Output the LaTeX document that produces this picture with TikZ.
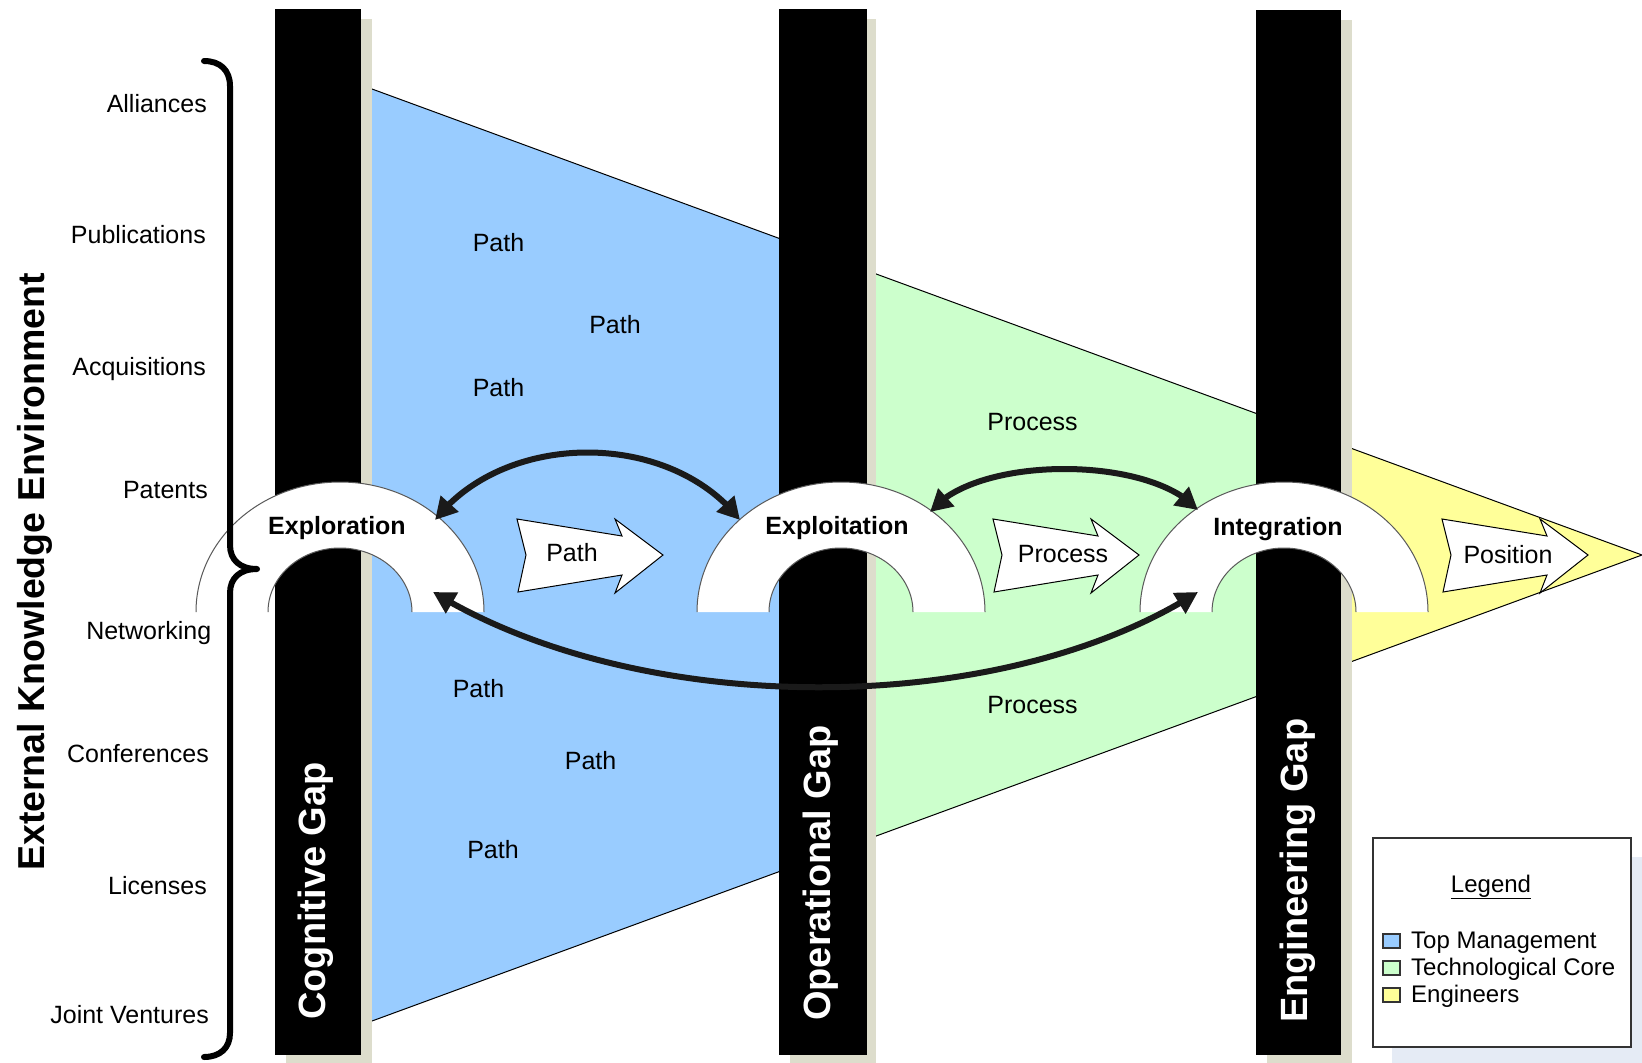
\documentclass[tikz,border=0pt]{standalone}
\usepackage{fontspec}
\setmainfont{Liberation Sans}
\usetikzlibrary{arrows.meta,bending}

\definecolor{mgmt}{RGB}{153,204,255}
\definecolor{core}{RGB}{204,255,204}
\definecolor{engr}{RGB}{255,255,153}
\definecolor{barshade}{RGB}{221,221,204}
\definecolor{legshade}{RGB}{229,235,245}
\definecolor{ink}{RGB}{26,26,26}

\begin{document}
\begin{tikzpicture}[x=1pt,y=1pt,
  txt/.style={inner sep=0pt, font=\fontsize{25}{30}\selectfont},
  legtxt/.style={inner sep=0pt, anchor=base west, font=\fontsize{24}{28}\selectfont},
  archlabel/.style={inner sep=0pt, anchor=base, font=\fontsize{25}{30}\selectfont\bfseries},
  gaplabel/.style={inner sep=0pt, rotate=90, anchor=base west, text=white,
    font=\fontsize{38}{44}\selectfont\bfseries},
  gapbar/.style={fill=black},
  gapshade/.style={fill=barshade},
  archline/.style={draw=black!65, line width=1pt},
  blockarrow/.style={fill=white, draw=black, line width=1pt, line join=miter},
  link/.style={draw=ink, line width=6pt,
    {Triangle[length=22pt,width=23pt]}-{Triangle[length=22pt,width=23pt]}},
  legbox/.style={draw=black!80, line width=1.3pt},
  archpic/.pic={
    \fill[white] (-144,0) arc[start angle=180,end angle=0,x radius=144,y radius=130]
      -- (72,0) arc[start angle=0,end angle=180,x radius=72,y radius=64] -- cycle;
    \draw[archline] (-144,0) arc[start angle=180,end angle=0,x radius=144,y radius=130];
    \draw[archline] (72,0) arc[start angle=0,end angle=180,x radius=72,y radius=64];
  },
  arrowpic/.pic={
    \draw[blockarrow] (0,36) -- (105,19) -- (98,36) -- (146,0) -- (98,-38)
      -- (105,-20) -- (1,-37) -- (9,0) -- cycle;
  }
]
\useasboundingbox (0,0) rectangle (1642,-1063);
\fill[white] (0,0) rectangle (1642,-1063);

% the three coloured zones of the funnel
\begin{scope}
  \clip (0,0) rectangle (823,-1063);
  \fill[mgmt] (372,-89) -- (1642,-555) -- (372,-1021) -- cycle;
\end{scope}
\begin{scope}
  \clip (823,0) rectangle (1298,-1063);
  \fill[core] (372,-89) -- (1642,-555) -- (372,-1021) -- cycle;
\end{scope}
\begin{scope}
  \clip (1298,0) rectangle (1642,-1063);
  \fill[engr] (372,-89) -- (1642,-555) -- (372,-1021) -- cycle;
\end{scope}
\draw[black, line width=1pt] (372,-89) -- (1642,-555) -- (372,-1021);

% gap bars with their shadows
\fill[gapshade] (286,-19) rectangle (372,-1070);
\fill[gapshade] (790,-19) rectangle (876,-1070);
\fill[gapshade] (1267,-20) rectangle (1352,-1070);
\fill[gapbar] (275,-9) rectangle (361,-1055);
\fill[gapbar] (779,-9) rectangle (867,-1055);
\fill[gapbar] (1256,-10) rectangle (1341,-1055);

\node[gaplabel] (cog) at (325,-1020) {Cognitive Gap};
\node[gaplabel] (oper) at (830,-1021) {Operational Gap};
\node[gaplabel] (eng) at (1307,-1023) {Engineering Gap};

% arches
\pic (explore) at (340,-612) {archpic};
\pic (exploit) at (841,-612) {archpic};
\pic (integr) at (1284,-612) {archpic};
\node[archlabel] (explorelbl) at (337,-534) {Exploration};
\node[archlabel] (exploitlbl) at (837,-534) {Exploitation};
\node[archlabel] (integrlbl) at (1278,-535) {Integration};

% block arrows
\pic (parr) at (517,-555) {arrowpic};
\pic (prarr) at (993,-555) {arrowpic};
\pic (posarr) at (1442,-555) {arrowpic};
\node[txt] (ptxt) at (572,-553) {Path};
\node[txt] (prtxt) at (1063,-554) {Process};
\node[txt] (postxt) at (1508,-555) {Position};

% curved links between the arches
\coordinate (l1a) at (435,-520);
\coordinate (l1b) at (740,-520);
\coordinate (l2a) at (930,-512);
\coordinate (l2b) at (1198,-510);
\coordinate (l3a) at (433,-592);
\coordinate (l3b) at (1198,-592);
\draw[link] (l1a) .. controls (505,-430) and (670,-430) .. (l1b);
\draw[link] (l2a) .. controls (975,-455) and (1150,-455) .. (l2b);
\draw[link] (l3a) .. controls (640,-719) and (1000,-719) .. (l3b);

% labels inside the funnel
\node[txt] (p1) at (498.5,-243) {Path};
\node[txt] (p2) at (615,-324.5) {Path};
\node[txt] (p3) at (498.5,-387.5) {Path};
\node[txt] (p4) at (478.5,-689) {Path};
\node[txt] (p5) at (590.6,-761) {Path};
\node[txt] (p6) at (493,-850) {Path};
\node[txt] (pr1) at (1032.5,-422) {Process};
\node[txt] (pr2) at (1032.5,-705) {Process};

% knowledge sources and brace
\node[txt, anchor=base east] (s1) at (207,-112) {Alliances};
\node[txt, anchor=base east] (s2) at (206,-243) {Publications};
\node[txt, anchor=base east] (s3) at (206,-375) {Acquisitions};
\node[txt, anchor=base east] (s4) at (208,-498) {Patents};
\node[txt, anchor=base east] (s5) at (211.5,-639) {Networking};
\node[txt, anchor=base east] (s6) at (209,-762) {Conferences};
\node[txt, anchor=base east] (s7) at (207,-894) {Licenses};
\node[txt, anchor=base east] (s8) at (209,-1023) {Joint Ventures};

\draw[black, line width=6pt, line cap=round, line join=round]
  (204,-61) .. controls (220,-61) and (230,-70) .. (230,-86) -- (230,-545)
  .. controls (230,-560) and (240,-569) .. (257,-569)
  .. controls (240,-569) and (230,-578) .. (230,-593) -- (230,-1033)
  .. controls (230,-1048) and (220,-1057) .. (204,-1057);

\node[inner sep=0pt, rotate=90, anchor=base west, font=\fontsize{37.5}{44}\selectfont\bfseries]
  (title) at (45,-871) {External Knowledge Environment};

% legend
\fill[legshade] (1392,-857) rectangle (1650,-1070);
\draw[legbox, fill=white] (1373,-838) rectangle (1631,-1047);
\node[inner sep=0pt, anchor=base, font=\fontsize{24}{28}\selectfont] (legtitle) at (1491,-892) {\underline{Legend}};
\draw[legbox, line width=1.2pt, fill=mgmt] (1383,-948) rectangle (1400,-934);
\draw[legbox, line width=1.2pt, fill=core] (1383,-975) rectangle (1400,-961);
\draw[legbox, line width=1.2pt, fill=engr] (1383,-1002) rectangle (1400,-988);
\node[legtxt] (leg1) at (1411,-948) {Top Management};
\node[legtxt] (leg2) at (1411,-975) {Technological Core};
\node[legtxt] (leg3) at (1411,-1002) {Engineers};
\end{tikzpicture}
\end{document}
